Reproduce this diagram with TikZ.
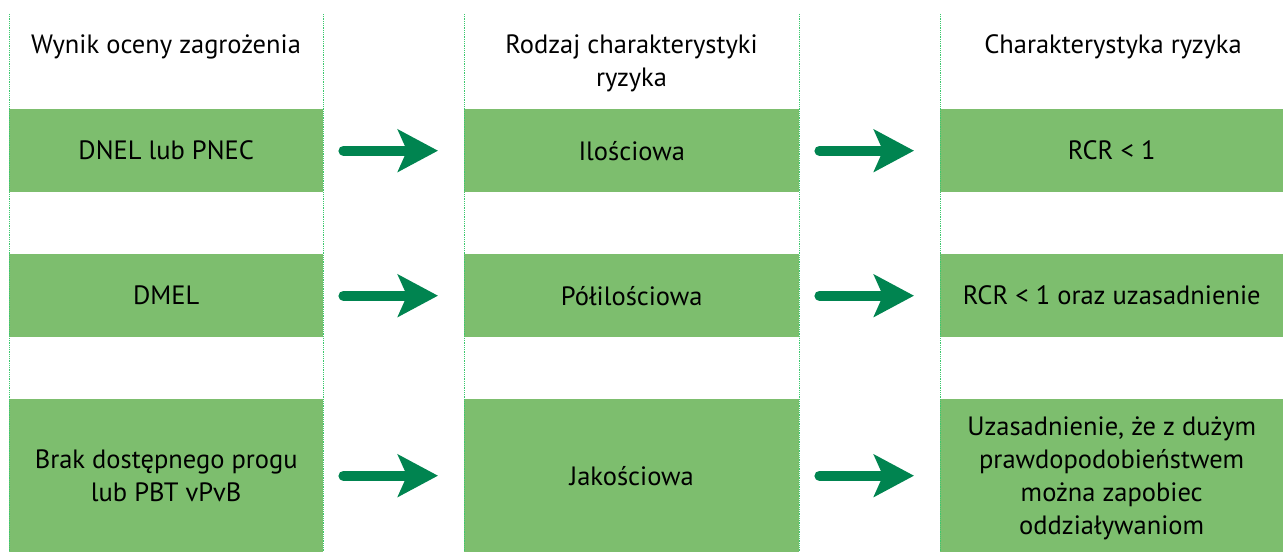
\documentclass[tikz,border=0pt]{standalone}
\usepackage{fontspec}
\setmainfont{PT Sans}
\usetikzlibrary{arrows.meta}
\definecolor{boxgreen}{RGB}{125,190,110}
\definecolor{arrowgreen}{RGB}{0,132,80}
\definecolor{linegreen}{RGB}{60,200,110}
\begin{document}
\begin{tikzpicture}[x=1pt,y=-1pt,
  txt/.style={font=\fontsize{26.5}{33}\selectfont},
  cell/.style={txt, fill=boxgreen, inner sep=0pt, anchor=north west, align=center},
  headtxt/.style={txt, inner sep=0pt, align=center},
  flow/.style={draw=arrowgreen, line width=10pt, line cap=round,
    -{Stealth[length=40pt,width=42pt,inset=9pt]}, shorten <=20pt, shorten >=26pt},
  colline/.style={draw=linegreen, densely dotted, line width=0.8pt}]
\useasboundingbox (0,0) rectangle (1283,552);
% boxes
\node[cell, minimum width=314pt, minimum height=83pt] (a1) at (9,109) {DNEL lub PNEC};
\node[cell, minimum width=314pt, minimum height=83pt] (a2) at (9,254) {DMEL};
\node[cell, minimum width=314pt, minimum height=153pt] (a3) at (9,399) {Brak dostępnego progu\\lub PBT vPvB};
\node[cell, minimum width=335pt, minimum height=83pt] (b1) at (464,109) {Ilościowa};
\node[cell, minimum width=335pt, minimum height=83pt] (b2) at (464,254) {Półilościowa};
\node[cell, minimum width=335pt, minimum height=153pt] (b3) at (464,399) {Jakościowa};
\node[cell, minimum width=343pt, minimum height=83pt] (c1) at (940,109) {RCR < 1};
\node[cell, minimum width=343pt, minimum height=83pt] (c2) at (940,254) {RCR < 1 oraz uzasadnienie};
\node[cell, minimum width=343pt, minimum height=153pt, text depth=0pt] (c3) at (940,399) {Uzasadnienie, że z dużym\\prawdopodobieństwem\\można zapobiec\\oddziaływaniom};
% headers
\node[headtxt] (ha) at (166,47) {Wynik oceny zagrożenia};
\node[headtxt] (hb) at (631.5,63) {Rodzaj charakterystyki\\ryzyka};
\node[headtxt] (hc) at (1113,47) {Charakterystyka ryzyka};
% column borders
\foreach \x/\n in {9/l1,323/l2,464/l3,799/l4,940/l5}{
  \coordinate (\n t) at (\x,14);
  \coordinate (\n b) at (\x,552);
  \draw[colline] (\n t) -- (\n b);
}
% arrows
\draw[flow] (a1.east) -- (b1.west);
\draw[flow] (b1.east) -- (c1.west);
\draw[flow] (a2.east) -- (b2.west);
\draw[flow] (b2.east) -- (c2.west);
\draw[flow] (a3.east) -- (b3.west);
\draw[flow] (b3.east) -- (c3.west);
\end{tikzpicture}
\end{document}
